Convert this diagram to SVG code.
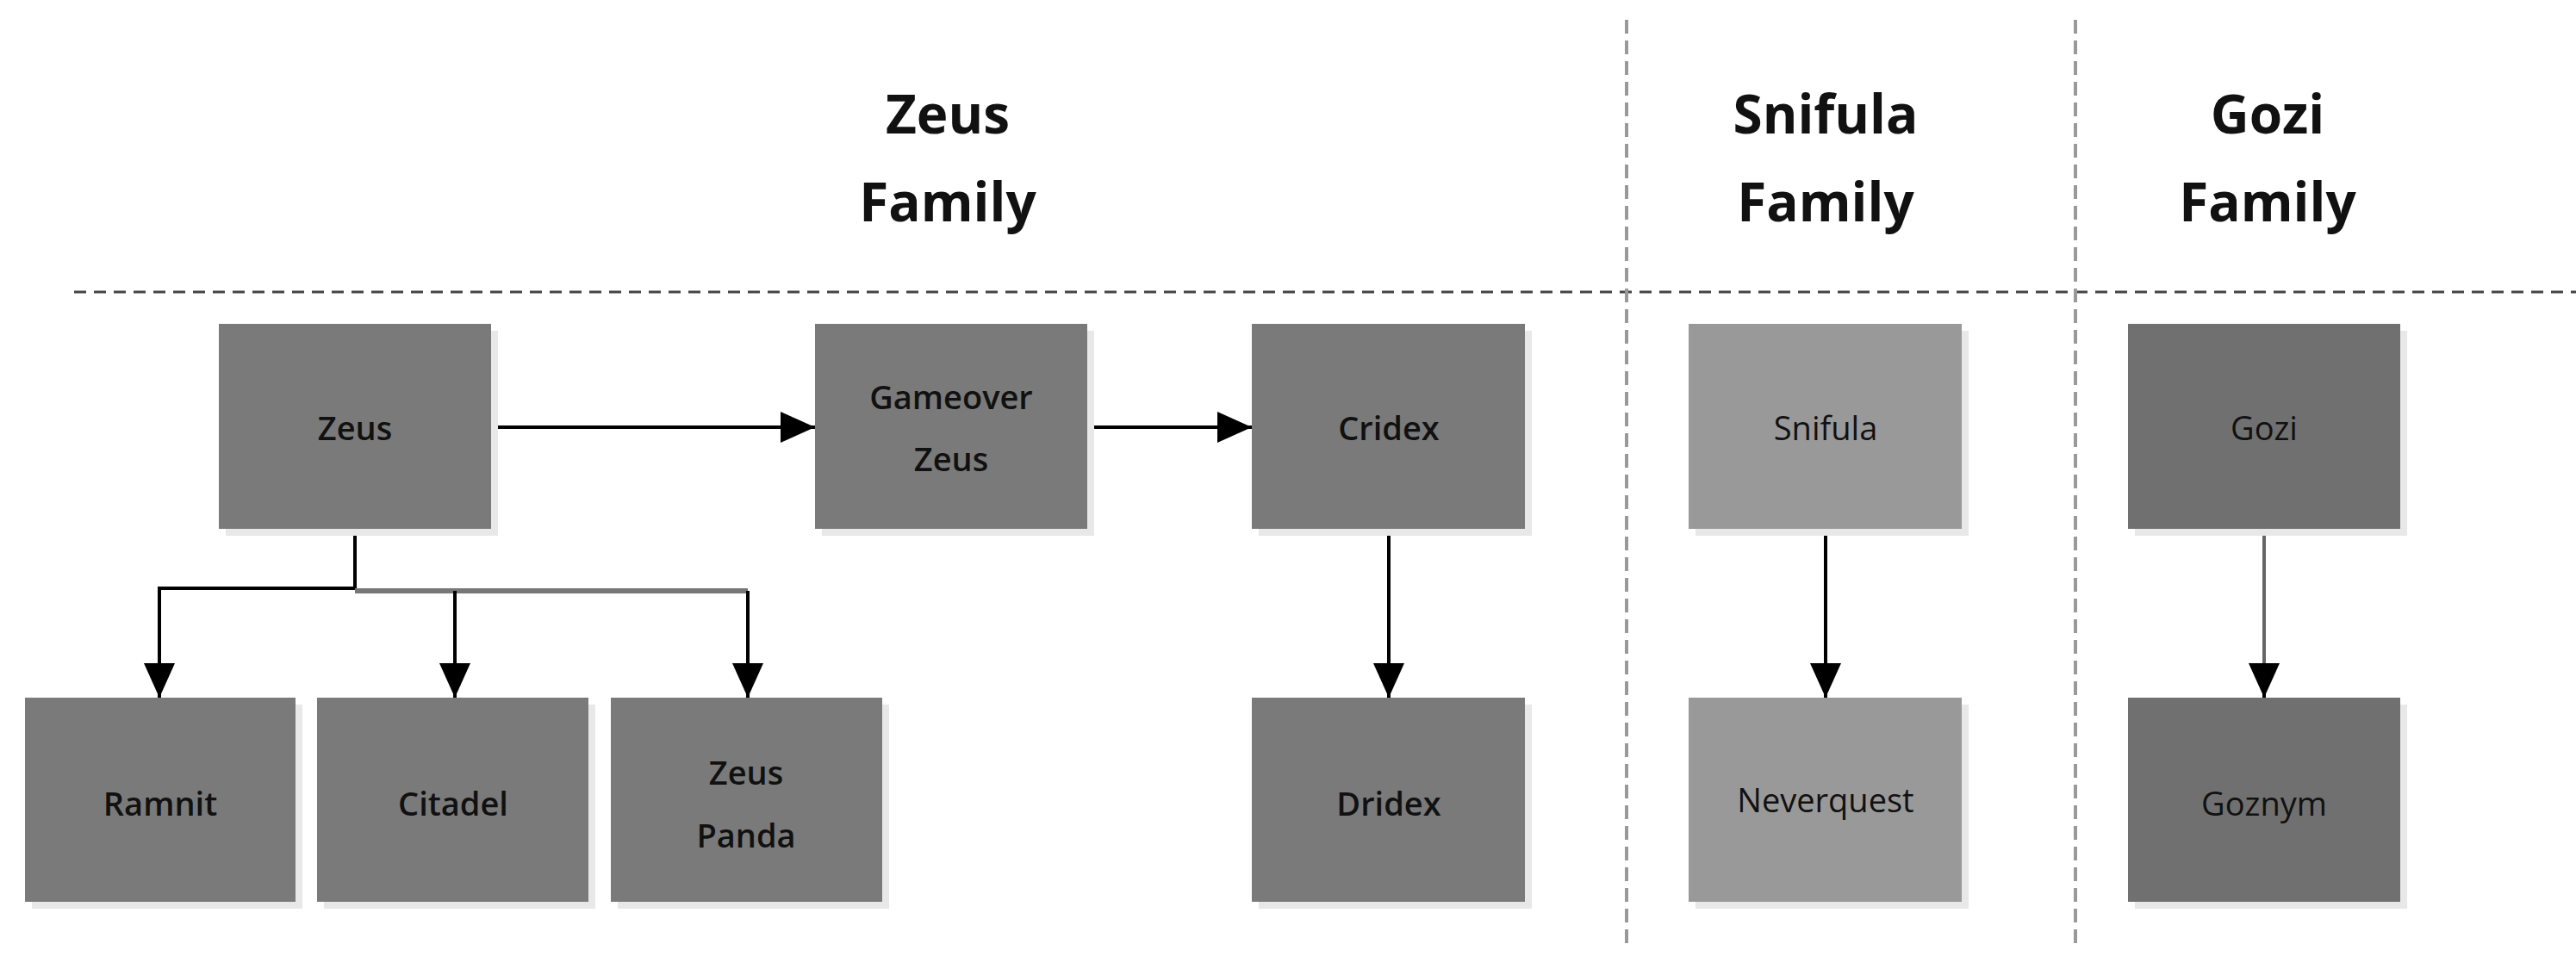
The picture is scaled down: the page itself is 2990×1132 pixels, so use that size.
<svg xmlns="http://www.w3.org/2000/svg" width="2990" height="1132" viewBox="0 0 2990 1132">
<defs>
<style>
.t{font-family:"Open Sans","Liberation Sans",sans-serif;font-weight:bold;font-size:62px;fill:#111;text-anchor:middle}
.l{font-family:"Open Sans","Liberation Sans",sans-serif;font-size:38px;fill:#111;text-anchor:middle;dominant-baseline:central}
.b{font-weight:600}
.z{fill:#7a7a7a}.s{fill:#999999}.g{fill:#707070}
.sh{fill:#e8e8e8}
.c{stroke:#000;stroke-width:4;fill:none}
.d{stroke:#444;stroke-width:3;stroke-dasharray:14 9;fill:none}
.v{stroke:#999;stroke-width:4;stroke-dasharray:16 8;fill:none}
</style>
<marker id="a" viewBox="0 0 10 10" refX="10" refY="5" markerWidth="10" markerHeight="10" markerUnits="userSpaceOnUse" orient="auto"><path d="M0,0L10,5L0,10z" fill="#000"/></marker>
<marker id="ar" viewBox="0 0 10 10" refX="10" refY="5" markerWidth="40" markerHeight="40" markerUnits="userSpaceOnUse" orient="auto"><path d="M0,0.5L10,5L0,9.5z" fill="#000"/></marker>
</defs>
<rect width="2990" height="1132" fill="#fff"/>
<g id="dividers">
<line class="d" x1="86" y1="339" x2="2990" y2="339"/>
<line class="v" x1="1888" y1="23" x2="1888" y2="1102"/>
<line class="v" x1="2409" y1="23" x2="2409" y2="1102"/>
</g>
<g id="titles">
<text class="t" x="1100" y="155">Zeus</text><text class="t" x="1100" y="257">Family</text>
<text class="t" x="2119" y="155">Snifula</text><text class="t" x="2119" y="257">Family</text>
<text class="t" x="2632" y="155">Gozi</text><text class="t" x="2632" y="257">Family</text>
</g>
<g id="connectors">
<line class="c" x1="570" y1="496" x2="946" y2="496" marker-end="url(#ar)"/>
<line class="c" x1="1262" y1="496" x2="1453" y2="496" marker-end="url(#ar)"/>
<polyline class="c" points="412,614 412,683 185,683 185,810" marker-end="url(#ar)"/>
<line x1="412" y1="686" x2="868" y2="686" stroke="#777" stroke-width="6"/>
<line class="c" x1="528" y1="686" x2="528" y2="810" marker-end="url(#ar)"/>
<line class="c" x1="868" y1="686" x2="868" y2="810" marker-end="url(#ar)"/>
<line class="c" x1="1612" y1="614" x2="1612" y2="810" marker-end="url(#ar)"/>
<line class="c" x1="2119" y1="614" x2="2119" y2="810" marker-end="url(#ar)"/>
<line x1="2628" y1="614" x2="2628" y2="790" stroke="#666" stroke-width="4"/>
<line class="c" x1="2628" y1="780" x2="2628" y2="810" marker-end="url(#ar)"/>
</g>
<g id="zeus"><rect class="sh" x="262" y="384" width="316" height="238"/><rect class="z" x="254" y="376" width="316" height="238"/><text class="l b" x="412" y="496">Zeus</text></g>
<g id="gameover"><rect class="sh" x="954" y="384" width="316" height="238"/><rect class="z" x="946" y="376" width="316" height="238"/><text class="l b" x="1104" y="460">Gameover</text><text class="l b" x="1104" y="532">Zeus</text></g>
<g id="cridex"><rect class="sh" x="1461" y="384" width="317" height="238"/><rect class="z" x="1453" y="376" width="317" height="238"/><text class="l b" x="1612" y="496">Cridex</text></g>
<g id="snifula"><rect class="sh" x="1968" y="384" width="317" height="238"/><rect class="s" x="1960" y="376" width="317" height="238"/><text class="l" x="2119" y="496">Snifula</text></g>
<g id="gozi"><rect class="sh" x="2478" y="384" width="316" height="238"/><rect class="g" x="2470" y="376" width="316" height="238"/><text class="l" x="2628" y="496">Gozi</text></g>
<g id="ramnit"><rect class="sh" x="37" y="818" width="314" height="237"/><rect class="z" x="29" y="810" width="314" height="237"/><text class="l b" x="186" y="932">Ramnit</text></g>
<g id="citadel"><rect class="sh" x="376" y="818" width="315" height="237"/><rect class="z" x="368" y="810" width="315" height="237"/><text class="l b" x="526" y="932">Citadel</text></g>
<g id="zeuspanda"><rect class="sh" x="717" y="818" width="315" height="237"/><rect class="z" x="709" y="810" width="315" height="237"/><text class="l b" x="866" y="896">Zeus</text><text class="l b" x="866" y="969">Panda</text></g>
<g id="dridex"><rect class="sh" x="1461" y="818" width="317" height="237"/><rect class="z" x="1453" y="810" width="317" height="237"/><text class="l b" x="1612" y="932">Dridex</text></g>
<g id="neverquest"><rect class="sh" x="1968" y="818" width="317" height="237"/><rect class="s" x="1960" y="810" width="317" height="237"/><text class="l" x="2119" y="928">Neverquest</text></g>
<g id="goznym"><rect class="sh" x="2478" y="818" width="316" height="237"/><rect class="g" x="2470" y="810" width="316" height="237"/><text class="l" x="2628" y="932">Goznym</text></g>
</svg>
